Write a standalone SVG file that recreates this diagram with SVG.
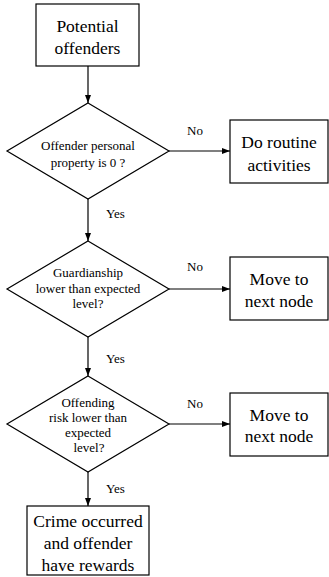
<svg xmlns="http://www.w3.org/2000/svg" width="329" height="577" viewBox="0 0 329 577">
<style>
.shape{fill:#fff;stroke:#000;stroke-width:1.2}
.edge{fill:none;stroke:#000;stroke-width:1.2}
text{font-family:"Liberation Serif","Times New Roman",serif;fill:#000;text-anchor:middle}
.big{font-size:17.5px}
.small{font-size:13px}
.lbl{font-size:13px;text-anchor:start}
</style>
<defs>
<marker id="arr" markerWidth="8" markerHeight="6" refX="8" refY="3" orient="auto" markerUnits="userSpaceOnUse">
<path d="M0,0 L8,3 L0,6 Z" fill="#000"/>
</marker>
</defs>
<rect width="329" height="577" fill="#fff"/>
<g id="connectors">
<line class="edge" x1="88" y1="66" x2="88" y2="103" marker-end="url(#arr)"/>
<line class="edge" x1="169" y1="151" x2="230" y2="151" marker-end="url(#arr)"/>
<line class="edge" x1="88" y1="199" x2="88" y2="241" marker-end="url(#arr)"/>
<line class="edge" x1="169" y1="289" x2="230" y2="289" marker-end="url(#arr)"/>
<line class="edge" x1="88" y1="337" x2="88" y2="376" marker-end="url(#arr)"/>
<line class="edge" x1="169" y1="424" x2="230" y2="424" marker-end="url(#arr)"/>
<line class="edge" x1="88" y1="472" x2="88" y2="506" marker-end="url(#arr)"/>
<text class="lbl" x="187" y="135">No</text>
<text class="lbl" x="106" y="218">Yes</text>
<text class="lbl" x="187" y="271">No</text>
<text class="lbl" x="106" y="363">Yes</text>
<text class="lbl" x="187" y="408">No</text>
<text class="lbl" x="106" y="493">Yes</text>
</g>
<g id="start">
<rect class="shape" x="36" y="4" width="103" height="62"/>
<text class="big" x="87.5" y="31.5">Potential</text>
<text class="big" x="87.5" y="53.5">offenders</text>
</g>
<g id="decision1">
<polygon class="shape" points="88,103 169,151 88,199 7,151"/>
<text class="small" x="88" y="150">Offender personal</text>
<text class="small" x="88" y="167">property is 0 ?</text>
</g>
<g id="routine">
<rect class="shape" x="230" y="120" width="98" height="63"/>
<text class="big" x="279" y="148">Do routine</text>
<text class="big" x="279" y="171">activities</text>
</g>
<g id="decision2">
<polygon class="shape" points="88,241 169,289 88,337 7,289"/>
<text class="small" x="88" y="277">Guardianship</text>
<text class="small" x="88" y="292.5">lower than expected</text>
<text class="small" x="88" y="307.5">level?</text>
</g>
<g id="move1">
<rect class="shape" x="230" y="257" width="98" height="63"/>
<text class="big" x="279" y="285">Move to</text>
<text class="big" x="279" y="307">next node</text>
</g>
<g id="decision3">
<polygon class="shape" points="88,376 169,424 88,472 7,424"/>
<text class="small" x="88" y="407">Offending</text>
<text class="small" x="88" y="422">risk lower than</text>
<text class="small" x="88" y="437">expected</text>
<text class="small" x="89" y="452">level?</text>
</g>
<g id="move2">
<rect class="shape" x="230" y="393" width="98" height="63"/>
<text class="big" x="279" y="420.5">Move to</text>
<text class="big" x="279" y="442">next node</text>
</g>
<g id="crime">
<rect class="shape" x="27" y="506" width="122" height="69"/>
<text class="big" x="88" y="527">Crime occurred</text>
<text class="big" x="88" y="549">and offender</text>
<text class="big" x="88" y="570.5">have rewards</text>
</g>
</svg>
